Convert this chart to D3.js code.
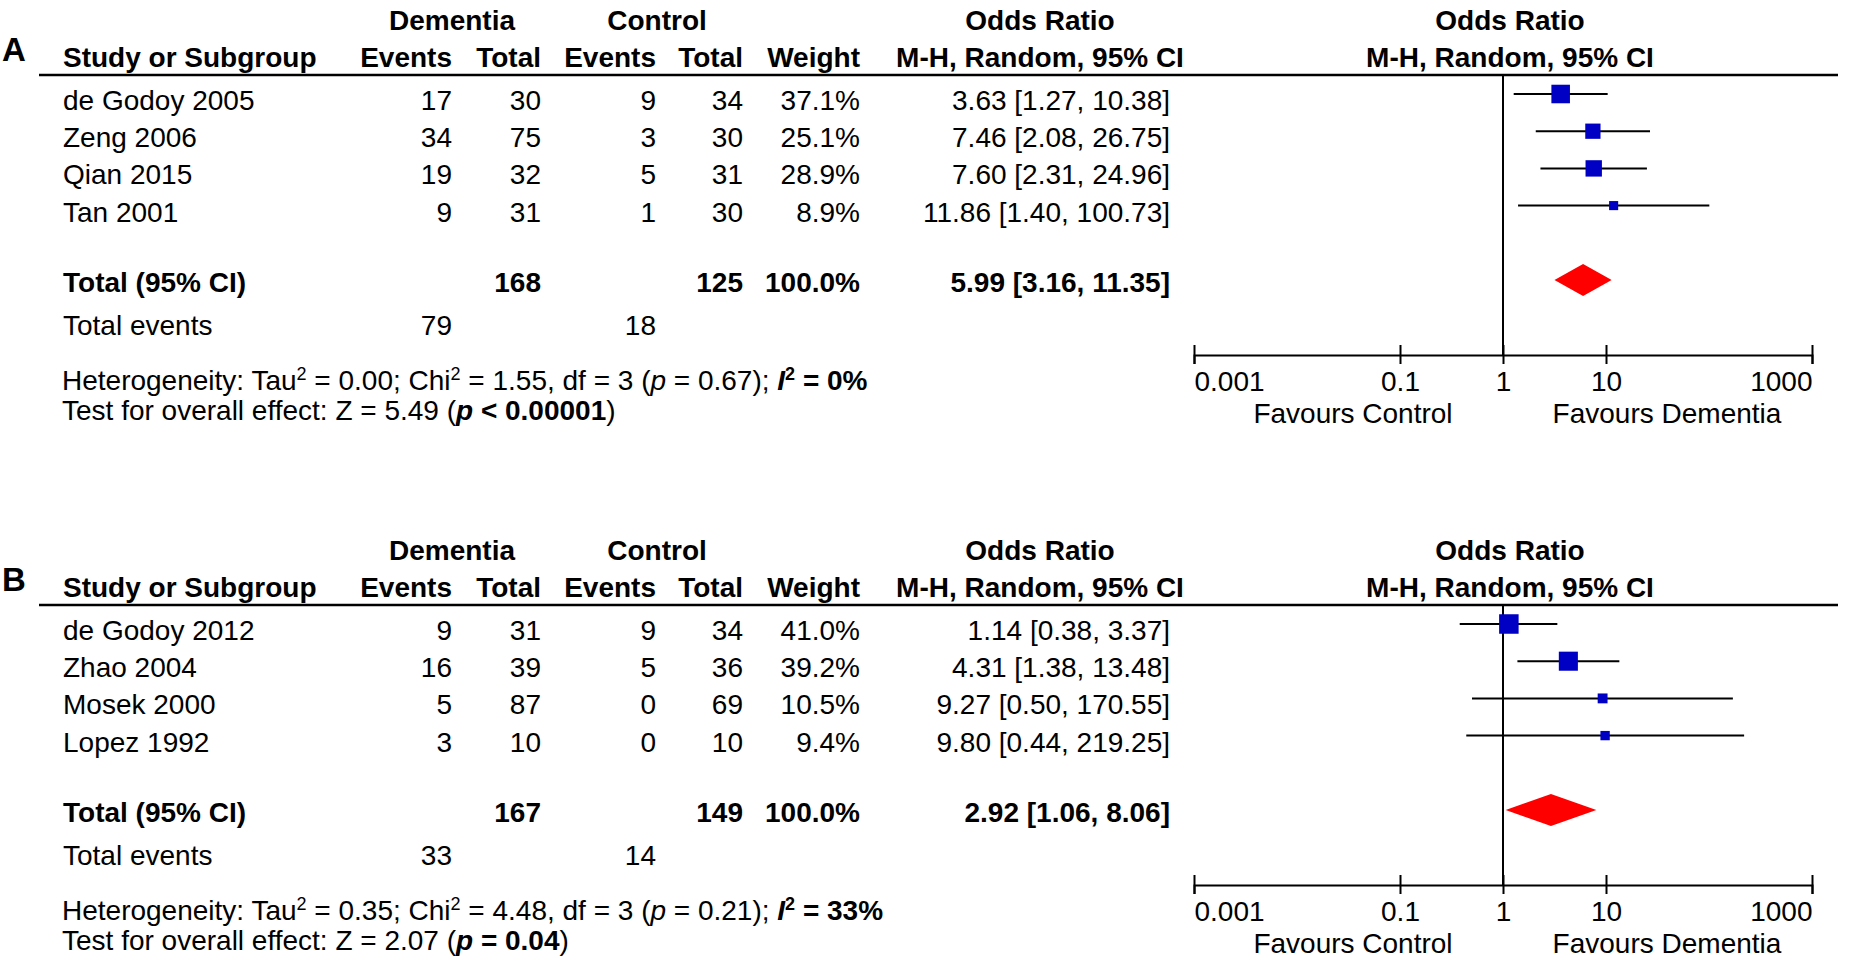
<!DOCTYPE html>
<html>
<head>
<meta charset="utf-8">
<script src="https://cdn.jsdelivr.net/npm/d3@7"></script>
<style>
body { margin: 0; background: #fff; }
svg text { font-family: "Liberation Sans", Arial, sans-serif; font-size: 28px; fill: #000; }
</style>
</head>
<body>
<div id="chart"></div>
<script>
// Panel A: study rows
const studiesA = ["de Godoy 2005", "Zeng 2006", "Qian 2015", "Tan 2001"];
const demEventsA = [17, 34, 19, 9];
const demTotalA = [30, 75, 32, 31];
const ctlEventsA = [9, 3, 5, 1];
const ctlTotalA = [34, 30, 31, 30];
const weightA = [37.1, 25.1, 28.9, 8.9];
const orA = [3.63, 7.46, 7.60, 11.86];
const lowA = [1.27, 2.08, 2.31, 1.40];
const highA = [10.38, 26.75, 24.96, 100.73];
// Panel A: pooled [or, low, high], totals [dementia, control], events, heterogeneity
const pooledA = [5.99, 3.16, 11.35];
const totalsA = [168, 125];
const totalEventsA = [79, 18];
const heteroA = ["0.00", "1.55", "3", "0.67", "0%"];
const overallA = ["5.49", "< 0.00001"];

// Panel B
const studiesB = ["de Godoy 2012", "Zhao 2004", "Mosek 2000", "Lopez 1992"];
const demEventsB = [9, 16, 5, 3];
const demTotalB = [31, 39, 87, 10];
const ctlEventsB = [9, 5, 0, 0];
const ctlTotalB = [34, 36, 69, 10];
const weightB = [41.0, 39.2, 10.5, 9.4];
const orB = [1.14, 4.31, 9.27, 9.80];
const lowB = [0.38, 1.38, 0.50, 0.44];
const highB = [3.37, 13.48, 170.55, 219.25];
const pooledB = [2.92, 1.06, 8.06];
const totalsB = [167, 149];
const totalEventsB = [33, 14];
const heteroB = ["0.35", "4.48", "3", "0.21", "33%"];
const overallB = ["2.07", "= 0.04"];

const axisTicks = [0.001, 0.1, 1, 10, 1000];

const width = 1850, height = 960;
const svg = d3.select("#chart").append("svg")
    .attr("width", width)
    .attr("height", height);

const x = d3.scaleLog().domain([0.001, 1000]).range([1194, 1812]);
const box = d3.scaleSqrt().domain([0, 41]).range([0, 19.5]);
const f2 = d3.format(".2f"), f1 = d3.format(".1f");

// column right edges
const col = {study: 63, dEv: 452, dTot: 541, cEv: 656, cTot: 743, wt: 860, or: 1170};

// writes a text line made of styled pieces (n, i, b, bi, sup, bsup)
function richText(g, xPos, yPos, parts) {
    const t = g.append("text").attr("x", xPos).attr("y", yPos);
    let shift = 0;
    for (const [str, st] of parts) {
        const sp = t.append("tspan").text(str);
        const isSup = st == "sup" || st == "bsup";
        const want = isSup ? -10 : 0;
        if (want != shift) { sp.attr("dy", want - shift); shift = want; }
        if (isSup) sp.style("font-size", "18px");
        if (st == "i" || st == "bi") sp.style("font-style", "italic");
        if (st == "b" || st == "bi" || st == "bsup") sp.style("font-weight", "bold");
    }
    return t;
}

function drawPanel(label, off, studies, dEv, dTot, cEv, cTot, wt, or, lo, hi, pooled, totals, tEvents, het, overall) {
    const g = svg.append("g").attr("transform", `translate(0,${off})`);
    const txt = (xx, yy, s, anchor, bold) => g.append("text")
        .attr("x", xx).attr("y", yy).text(s)
        .attr("text-anchor", anchor || "start")
        .style("font-weight", bold ? "bold" : null);

    txt(2, 61, label, "start", true).style("font-size", "33px");

    // headers
    txt(452, 30, "Dementia", "middle", true);
    txt(657, 30, "Control", "middle", true);
    txt(1040, 30, "Odds Ratio", "middle", true);
    txt(1510, 30, "Odds Ratio", "middle", true);
    txt(col.study, 67, "Study or Subgroup", "start", true);
    txt(col.dEv, 67, "Events", "end", true);
    txt(col.dTot, 67, "Total", "end", true);
    txt(col.cEv, 67, "Events", "end", true);
    txt(col.cTot, 67, "Total", "end", true);
    txt(col.wt, 67, "Weight", "end", true);
    txt(1040, 67, "M-H, Random, 95% CI", "middle", true);
    txt(1510, 67, "M-H, Random, 95% CI", "middle", true);

    g.append("line")
        .attr("x1", 39).attr("x2", 1838).attr("y1", 75).attr("y2", 75)
        .attr("stroke", "#000").attr("stroke-width", 2.5);

    const rows = studies.map((s, i) => ({
        name: s, dEv: dEv[i], dTot: dTot[i], cEv: cEv[i], cTot: cTot[i],
        wt: wt[i], or: or[i], lo: lo[i], hi: hi[i], y: 110 + i * 37.2
    }));

    // table text
    rows.forEach(r => {
        txt(col.study, r.y, r.name);
        txt(col.dEv, r.y, r.dEv, "end");
        txt(col.dTot, r.y, r.dTot, "end");
        txt(col.cEv, r.y, r.cEv, "end");
        txt(col.cTot, r.y, r.cTot, "end");
        txt(col.wt, r.y, f1(r.wt) + "%", "end");
        txt(col.or, r.y, `${f2(r.or)} [${f2(r.lo)}, ${f2(r.hi)}]`, "end");
    });

    txt(col.study, 292, "Total (95% CI)", "start", true);
    txt(col.dTot, 292, totals[0], "end", true);
    txt(col.cTot, 292, totals[1], "end", true);
    txt(col.wt, 292, "100.0%", "end", true);
    txt(col.or, 292, `${f2(pooled[0])} [${f2(pooled[1])}, ${f2(pooled[2])}]`, "end", true);

    txt(col.study, 334.5, "Total events");
    txt(col.dEv, 334.5, tEvents[0], "end");
    txt(col.cEv, 334.5, tEvents[1], "end");

    richText(g, 62, 390, [
        ["Heterogeneity: Tau", "n"], ["2", "sup"], [" = " + het[0] + "; Chi", "n"], ["2", "sup"],
        [" = " + het[1] + ", df = " + het[2] + " (", "n"], ["p", "i"], [" = " + het[3] + "); ", "n"],
        ["I", "bi"], ["2", "bsup"], [" = " + het[4], "b"]
    ]);
    richText(g, 62, 420, [
        ["Test for overall effect: Z = " + overall[0] + " (", "n"], ["p", "bi"],
        [" " + overall[1], "b"], [")", "n"]
    ]);

    // forest plot
    g.append("line")
        .attr("x1", x(1)).attr("x2", x(1)).attr("y1", 75).attr("y2", 355)
        .attr("stroke", "#000").attr("stroke-width", 2);

    g.selectAll(".ci").data(rows).enter().append("line")
        .attr("class", "ci")
        .attr("x1", d => x(d.lo)).attr("x2", d => x(d.hi))
        .attr("y1", d => d.y - 16).attr("y2", d => d.y - 16)
        .attr("stroke", "#000").attr("stroke-width", 2);

    g.selectAll(".box").data(rows).enter().append("rect")
        .attr("class", "box")
        .attr("x", d => x(d.or) - box(d.wt) / 2)
        .attr("y", d => d.y - 16 - box(d.wt) / 2)
        .attr("width", d => box(d.wt))
        .attr("height", d => box(d.wt))
        .attr("fill", "#0000c4");

    const cy = 280;
    g.append("path")
        .attr("d", `M${x(pooled[1])},${cy}L${x(pooled[0])},${cy - 16}L${x(pooled[2])},${cy}L${x(pooled[0])},${cy + 16}Z`)
        .attr("fill", "#ff0000");

    // axis
    const ax = g.append("g")
        .attr("transform", "translate(0,355)")
        .call(d3.axisBottom(x).tickValues(axisTicks).tickFormat(d => String(d)).tickSizeOuter(0).tickSize(9));
    ax.attr("font-size", null).attr("font-family", null);
    ax.select(".domain").attr("stroke", "#000").attr("stroke-width", 2);
    ax.selectAll(".tick line").attr("y1", -10).attr("y2", 9).attr("stroke", "#000").attr("stroke-width", 2);
    ax.selectAll(".tick text")
        .attr("y", 36).attr("dy", null)
        .attr("text-anchor", (d, i) => i == 0 ? "start" : (i == axisTicks.length - 1 ? "end" : "middle"));

    txt(1353, 423, "Favours Control", "middle");
    txt(1667, 423, "Favours Dementia", "middle");
}

drawPanel("A", 0, studiesA, demEventsA, demTotalA, ctlEventsA, ctlTotalA, weightA, orA, lowA, highA,
    pooledA, totalsA, totalEventsA, heteroA, overallA);
drawPanel("B", 530, studiesB, demEventsB, demTotalB, ctlEventsB, ctlTotalB, weightB, orB, lowB, highB,
    pooledB, totalsB, totalEventsB, heteroB, overallB);
</script>
</body>
</html>
